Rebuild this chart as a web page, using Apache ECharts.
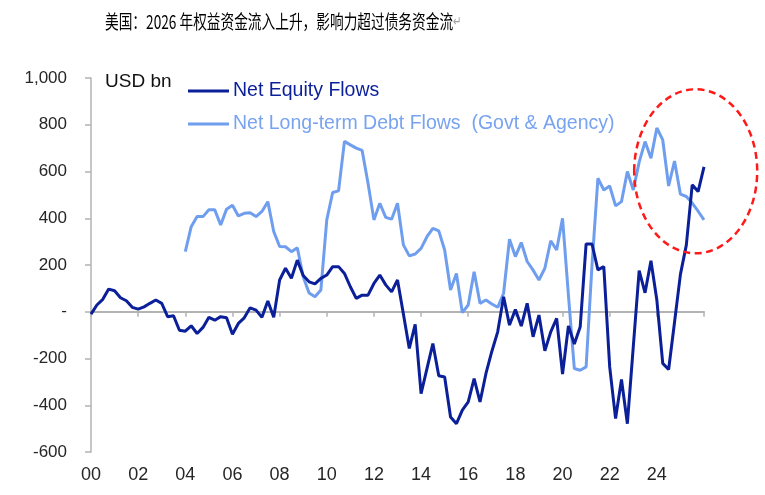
<!DOCTYPE html>
<html>
<head>
    <meta charset="UTF-8">
    <title>US equity vs debt flows</title>
    <script type="text/javascript" src="https://cdn.jsdelivr.net/npm/echarts@6/dist/echarts.min.js"></script>
</head>
<style>
    html, body { margin: 0; padding: 0; background: #fff; }
    .main { width: 765px; height: 495px; }
</style>
<body>
<div id="charts" class="main"></div>
<script type="text/javascript">
    // quarterly, 2000Q1 .. 2026Q1
    var quarters = [];
    for (var y = 2000; y <= 2026; y++) {
        for (var q = 1; q <= 4; q++) {
            if (quarters.length < 105) quarters.push(y + 'Q' + q);
        }
    }
    var tickLabels = ['00', '02', '04', '06', '08', '10', '12', '14', '16', '18', '20', '22', '24'];
    var yTicks = [-600, -400, -200, 0, 200, 400, 600, 800, 1000];

    // USD bn
    var equityFlows = [
        -10, 29, 53, 97, 90, 60, 47, 19, 11, 21,
        36, 50, 36, -21, -17, -79, -83, -60, -93, -67,
        -24, -36, -21, -26, -96, -50, -26, 17, 7, -24,
        46, -24, 136, 186, 143, 221, 155, 128, 119, 143,
        157, 193, 193, 164, 107, 57, 71, 71, 121, 157,
        115, 85, 136, -10, -157, -54, -350, -243, -136, -274,
        -279, -450, -479, -421, -386, -286, -386, -265, -170, -86,
        64, -57, 10, -61, 36, -107, -14, -167, -86, -28,
        -267, -61, -138, -64, 290, 290, 179, 193, -236, -457,
        -290, -479, -150, 176, 81, 218, 50, -221, -247, -45,
        160, 285, 543, 514, 620
    ];
    var debtFlows = [
        null, null, null, null, null, null, null, null, null, null, null, null, null, null, null, null,
        257, 364, 407, 407, 436, 436, 371, 439, 456, 410,
        421, 424, 407, 429, 471, 343, 279, 278, 257, 274,
        150, 80, 64, 93, 393, 510, 517, 729, 714, 700,
        690, 550, 393, 464, 404, 396, 464, 286, 239, 247,
        271, 321, 357, 346, 264, 93, 164, -4, 29, 171,
        36, 50, 33, 19, 79, 310, 236, 296, 215, 178,
        136, 186, 304, 264, 400, 70, -243, -250, -236, 200,
        571, 521, 538, 453, 471, 600, 521, 640, 728, 657,
        786, 735, 538, 645, 503, 493, 465, 430, 393
    ];

    var navy = '#0b1f99';
    var sky = '#6f9eef';
    var axisGray = '#b3b3b3';
    var font = '"Liberation Sans", Arial, sans-serif';

    var chart = echarts.init(document.getElementById('charts'));
    var option = {
        animation: false,
        backgroundColor: '#fff',
        title: {
            text: 'USD bn',
            left: 105,
            top: 72,
            padding: 0,
            textStyle: { fontFamily: font, fontSize: 19, fontWeight: 'normal', color: '#111' }
        },
        legend: {
            orient: 'vertical',
            left: 188,
            top: 81,
            padding: 0,
            icon: 'rect',
            itemWidth: 41,
            itemHeight: 3,
            itemGap: 13,
            data: [
                { name: 'Net Equity Flows', textStyle: { color: navy } },
                { name: 'Net Long-term Debt Flows  (Govt & Agency)', textStyle: { color: '#78a3f0' } }
            ],
            textStyle: { fontFamily: font, fontSize: 19.5, padding: [0, 0, 0, -1] }
        },
        grid: { left: 91, right: 61, top: 78, bottom: 43, outerBoundsMode: 'none' },
        xAxis: [
            {
                type: 'category',
                data: quarters,
                boundaryGap: false,
                axisLine: { onZero: true, lineStyle: { color: axisGray, width: 2 } },
                axisTick: { interval: function (i) { return i % 8 === 0; }, length: 5, lineStyle: { color: axisGray, width: 1.5 } },
                axisLabel: { show: false },
                splitLine: { show: false }
            },
            {
                type: 'category',
                data: quarters,
                boundaryGap: false,
                position: 'bottom',
                axisLine: { show: false, onZero: false },
                axisTick: { show: false },
                axisLabel: {
                    interval: function (i) { return i % 8 === 0 && i < 104; },
                    formatter: function (v, i) { return tickLabels[i / 8]; },
                    margin: 14,
                    fontFamily: font,
                    fontSize: 18,
                    color: '#262626'
                },
                splitLine: { show: false }
            }
        ],
        yAxis: {
            type: 'value',
            min: yTicks[0],
            max: yTicks[yTicks.length - 1],
            interval: 200,
            axisLine: { show: true, lineStyle: { color: axisGray, width: 1.5 } },
            axisTick: { show: true, length: 6, lineStyle: { color: axisGray, width: 1.5 } },
            splitLine: { show: false },
            axisLabel: {
                margin: 24,
                fontFamily: font,
                fontSize: 17,
                color: '#262626',
                formatter: function (v) {
                    if (v === 0) return '-';
                    return v.toString().replace(/\B(?=(\d{3})+(?!\d))/g, ',');
                }
            }
        },
        series: [
            {
                name: 'Net Equity Flows',
                type: 'line',
                data: equityFlows,
                symbol: 'none',
                z: 4,
                color: navy,
                lineStyle: { color: navy, width: 3 }
            },
            {
                name: 'Net Long-term Debt Flows  (Govt & Agency)',
                type: 'line',
                data: debtFlows,
                symbol: 'none',
                z: 3,
                color: sky,
                lineStyle: { color: sky, width: 3 }
            }
        ],
        graphic: [
            {
                type: 'text',
                x: 105,
                y: 22,
                scaleX: 0.72,
                style: {
                    text: '{t|美国：2026 年权益资金流入上升，影响力超过债务资金流}{r|↵}',
                    verticalAlign: 'middle',
                    rich: {
                        t: { fontFamily: '"Noto Sans CJK SC"', fontSize: 19, fill: '#000' },
                        r: { fontFamily: '"DejaVu Sans"', fontSize: 14, fill: '#a0a0a0' }
                    }
                }
            },
            {
                type: 'ellipse',
                shape: { cx: 695.7, cy: 171.3, rx: 61.5, ry: 82 },
                style: { fill: 'none', stroke: '#ff1a1a', lineWidth: 2.5, lineDash: [7, 4.5] },
                z: 100
            }
        ]
    };
    chart.setOption(option);
</script>
</body>
</html>
